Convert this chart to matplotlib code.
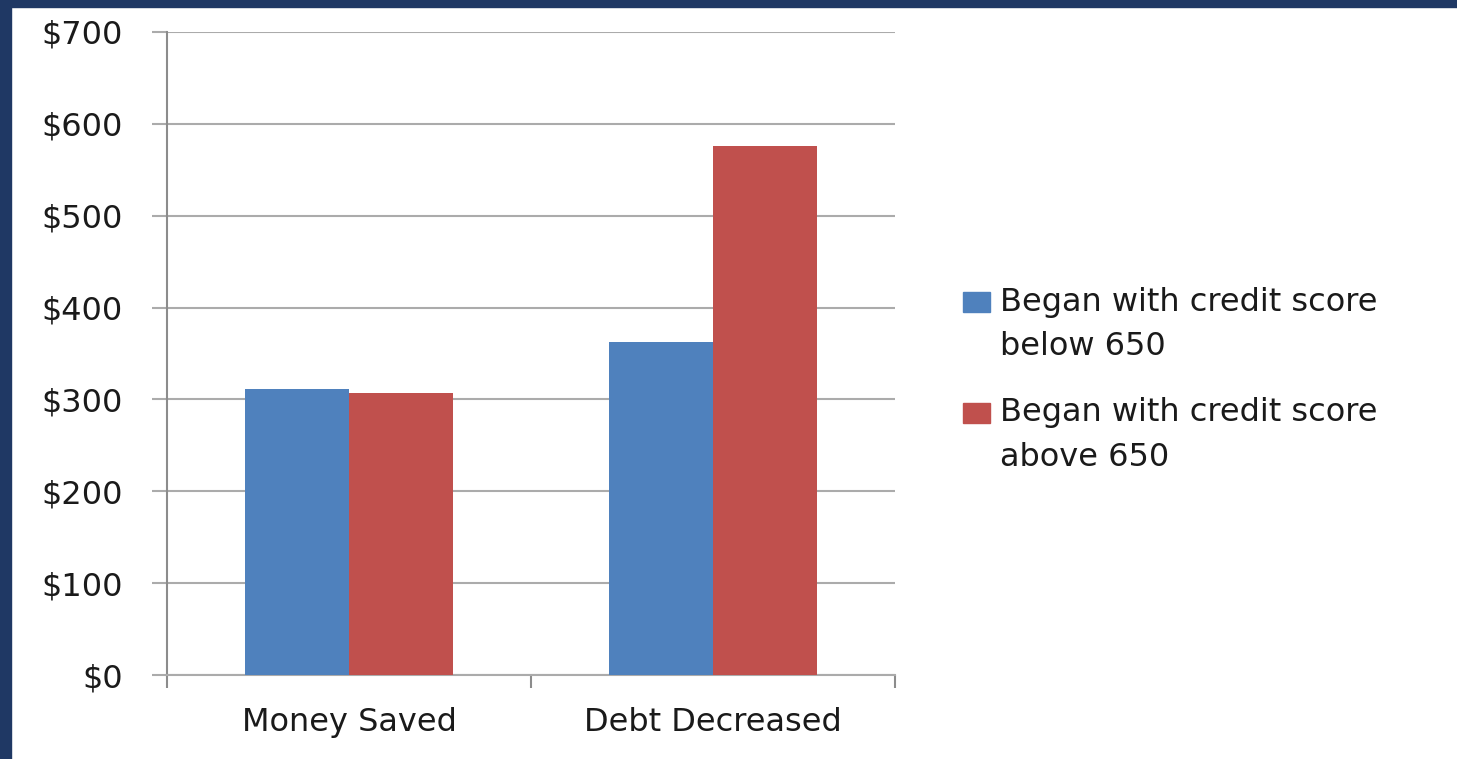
import matplotlib
matplotlib.use("Agg")
import matplotlib.pyplot as plt
from matplotlib.patches import Rectangle
import numpy as np

categories = ["Money Saved", "Debt Decreased"]
below_650 = [311, 362]
above_650 = [307, 576]
series_labels = ["Began with credit score\nbelow 650", "Began with credit score\nabove 650"]
yticks = [0, 100, 200, 300, 400, 500, 600, 700]

plt.rcParams['font.family'] = ['DejaVu Sans']

W, H = 1457, 759
fig = plt.figure(figsize=(W / 100, H / 100), dpi=100)
fig.patch.set_facecolor("white")

def px(xp, yp):
    return xp / W, 1 - yp / H

# navy frame on left and top
navy = "#1F3864"
fig.patches.append(Rectangle((0, 0), 11 / W, 1, transform=fig.transFigure, color=navy, zorder=10))
fig.patches.append(Rectangle((0, 1 - 7 / H), 1, 7 / H, transform=fig.transFigure, color=navy, zorder=10))

ax = fig.add_axes([167 / W, (H - 675) / H, (895 - 167) / W, (675 - 32) / H])

x = np.arange(len(categories))
bw = 0.285
blue = "#4F81BD"
red = "#C0504D"
colors = [blue, red]
ax.bar(x - bw / 2, below_650, width=bw, color=blue, zorder=3)
ax.bar(x + bw / 2, above_650, width=bw, color=red, zorder=3)

FS = 23
TC = "#1a1a1a"
ax.set_xlim(-0.5, 1.5)
ax.set_ylim(0, 700)
ax.set_yticks(yticks)
ax.set_yticklabels([f"${v}" for v in yticks], fontsize=FS, color=TC)
ax.yaxis.grid(True, color="#ABABAB", linewidth=1.5, zorder=0)
ax.set_axisbelow(True)

ax.set_xticks([-0.5, 0.5, 1.5])
ax.set_xticklabels([])
ax.set_xticks(x, minor=True)
ax.set_xticklabels(categories, minor=True, fontsize=FS, color=TC)
ax.tick_params(axis="x", which="minor", length=0, pad=23)
ax.tick_params(axis="x", which="major", length=9.5, width=1.5, color="#8C8C8C")
ax.tick_params(axis="y", length=11, width=1.5, color="#ABABAB", pad=21)

for s in ["top", "right"]:
    ax.spines[s].set_visible(False)
ax.spines["left"].set_color("#8C8C8C")
ax.spines["left"].set_linewidth(1.5)
ax.spines["bottom"].set_color("#ABABAB")
ax.spines["bottom"].set_linewidth(1.5)

# legend drawn manually
first_line_y = [302, 413]
line_gap = 45
for i, lab in enumerate(series_labels):
    y0 = first_line_y[i]
    fig.patches.append(Rectangle(px(963, y0 + 10), 27 / W, 20 / H,
                                 transform=fig.transFigure, color=colors[i]))
    for j, line in enumerate(lab.split("\n")):
        xx, yy = px(1000, y0 + j * line_gap)
        fig.text(xx, yy, line, fontsize=FS, color=TC, va="center", ha="left")

fig.savefig("out.png", dpi=100)
